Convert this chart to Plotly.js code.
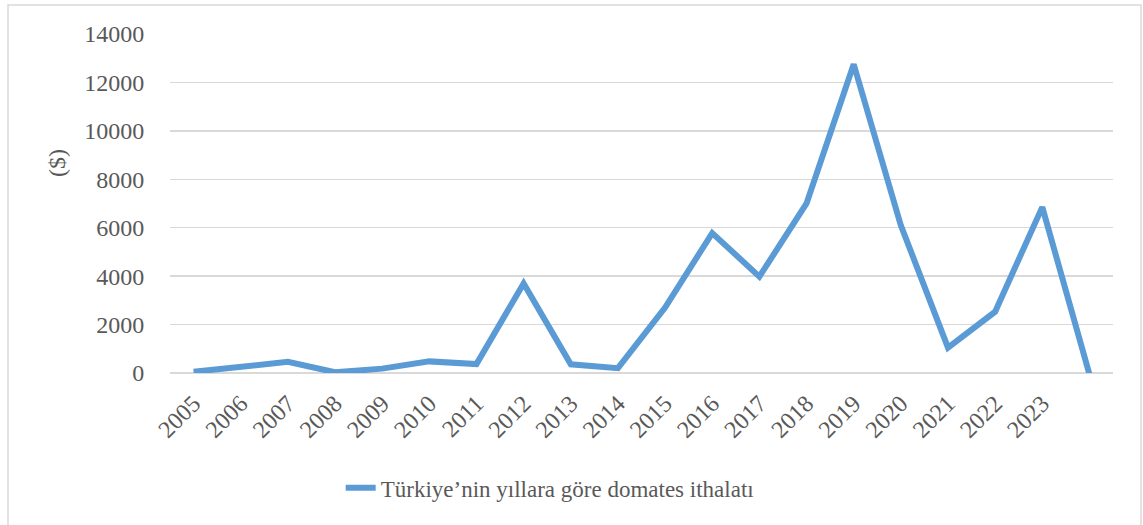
<!DOCTYPE html>
<html>
<head>
<meta charset="utf-8">
<script src="https://cdn.plot.ly/plotly-3.0.1.min.js"></script>
<style>html,body{margin:0;padding:0;background:#fff;}#chart{width:1143px;height:525px;}</style>
</head>
<body>
<div id="chart"></div>
<script>
const yearLabels = ['2005','2006','2007','2008','2009','2010','2011','2012','2013','2014','2015','2016','2017','2018','2019','2020','2021','2022','2023',''];
const importValues = [50, 250, 460, 30, 180, 480, 370, 3700, 360, 200, 2700, 5780, 3980, 7000, 12750, 6100, 1050, 2530, 6850, -50];
const seriesName = 'Türkiye’nin yıllara göre domates ithalatı';
const yTicks = [0, 2000, 4000, 6000, 8000, 10000, 12000, 14000];

const idx = yearLabels.map((_, i) => i);
const font = '"Liberation Serif", "Times New Roman", serif';
const grey = '#595959';

const trace = {
  x: idx,
  y: importValues,
  type: 'scatter',
  mode: 'lines',
  name: seriesName,
  line: {color: '#5B9BD5', width: 6},
  cliponaxis: false
};

const layout = {
  width: 1143, height: 525,
  margin: {l: 170, r: 30, t: 34, b: 152},
  paper_bgcolor: '#ffffff',
  plot_bgcolor: '#ffffff',
  font: {family: font, size: 24, color: grey},
  xaxis: {
    range: [-0.5, yearLabels.length - 0.5],
    tickvals: idx,
    ticktext: yearLabels,
    tickangle: -45,
    showgrid: false,
    zeroline: false,
    showline: false,
    ticks: 'outside', ticklen: 6, tickcolor: 'rgba(0,0,0,0)',
    tickfont: {family: font, size: 24, color: grey},
    fixedrange: true
  },
  yaxis: {
    range: [0, 14000],
    tickvals: yTicks,
    ticktext: yTicks.map(String),
    showgrid: true,
    gridcolor: '#D9D9D9',
    gridwidth: 1.5,
    zeroline: true,
    zerolinecolor: '#D9D9D9',
    zerolinewidth: 1.5,
    showline: false,
    ticks: 'outside', ticklen: 20, tickcolor: 'rgba(0,0,0,0)',
    tickfont: {family: font, size: 24, color: grey},
    fixedrange: true
  },
  showlegend: true,
  legend: {
    orientation: 'h',
    x: 0.181, xanchor: 'left',
    y: -0.339, yanchor: 'middle',
    font: {family: font, size: 23, color: grey},
    bgcolor: 'rgba(0,0,0,0)'
  },
  annotations: [{
    text: '($)',
    xref: 'paper', yref: 'paper',
    x: (57 - 170) / 943, y: (373 - 163) / 339,
    xanchor: 'center', yanchor: 'middle',
    textangle: -90,
    showarrow: false,
    font: {family: font, size: 24, color: grey}
  }],
  shapes: [{
    type: 'rect', xref: 'paper', yref: 'paper',
    x0: (8 - 170) / 943, x1: (1141 - 170) / 943,
    y0: (373 - 540) / 339, y1: (373 - 5) / 339,
    line: {color: '#D9D9D9', width: 1.5},
    fillcolor: 'rgba(0,0,0,0)',
    layer: 'below'
  }]
};

Plotly.newPlot('chart', [trace], layout, {displayModeBar: false, staticPlot: true});
</script>
</body>
</html>
